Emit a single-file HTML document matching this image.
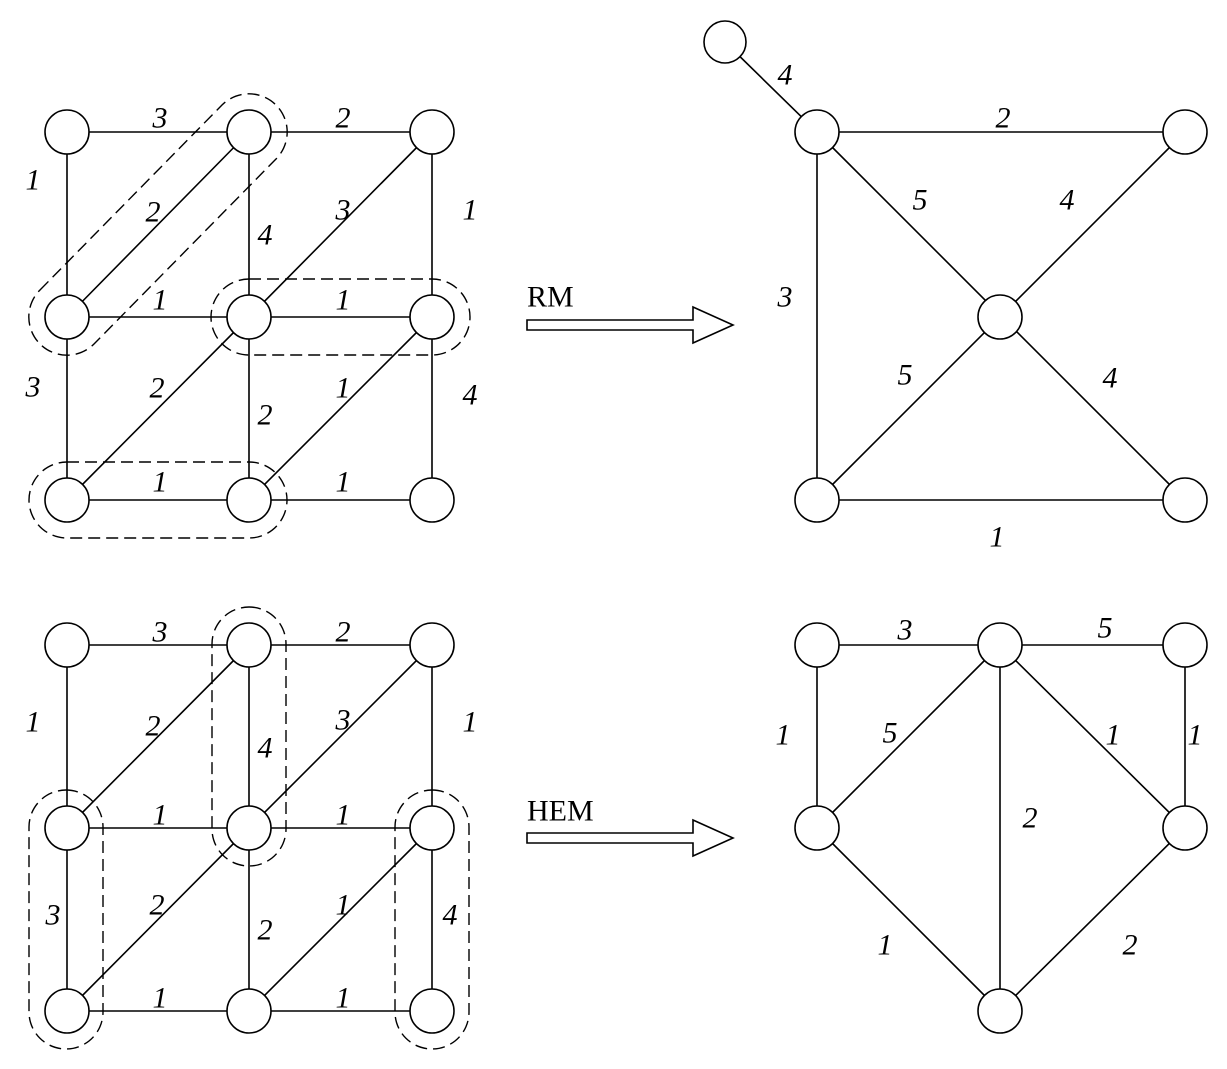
<!DOCTYPE html>
<html><head><style>html,body{margin:0;padding:0;background:#fff}svg{display:block}
text{font-family:"Liberation Serif",serif;font-size:30px;font-style:italic;fill:#000;text-anchor:middle;dominant-baseline:central}
.r{font-style:normal;text-anchor:start;font-size:30px}</style></head><body>
<svg width="1227" height="1069" viewBox="0 0 1227 1069" xmlns="http://www.w3.org/2000/svg">
<g stroke="#000" stroke-width="1.6" fill="none">
<!-- top-left grid -->
<path d="M67 132H432M67 317H432M67 500H432M67 132V500M249 132V500M432 132V500M67 317L249 132M249 317L432 132M67 500L249 317M249 500L432 317"/>
<!-- bottom-left grid -->
<path d="M67 645H432M67 828H432M67 1011H432M67 645V1011M249 645V1011M432 645V1011M67 828L249 645M249 828L432 645M67 1011L249 828M249 1011L432 828"/>
<!-- top-right -->
<path d="M725 42L817 132M817 132H1185M817 132V500M817 132L1185 500M1185 132L817 500M817 500H1185"/>
<!-- bottom-right -->
<path d="M817 645H1185M817 645V828M1185 645V828M1000 645L817 828M1000 645V1011M1000 645L1185 828M817 828L1000 1011M1185 828L1000 1011"/>
<!-- dashed -->
<g stroke-dasharray="12,6" stroke-width="1.4">
<path d="M40 290L222 105A38 38 0 0 1 276 159L94 344A38 38 0 0 1 40 290Z"/>
<rect x="211" y="279" width="259" height="76" rx="38"/>
<rect x="29" y="462" width="258" height="76" rx="38"/>
<rect x="29" y="790" width="74" height="259" rx="37"/>
<rect x="212" y="607" width="74" height="259" rx="37"/>
<rect x="395" y="790" width="74" height="259" rx="37"/>
</g>
<!-- arrows -->
<path d="M527 320H693V307L733 325L693 343V330H527Z"/>
<path d="M527 833H693V820L733 838L693 856V843H527Z"/>
</g>
<g stroke="#000" stroke-width="1.6" fill="#fff">
<circle cx="67" cy="132" r="22"/><circle cx="249" cy="132" r="22"/><circle cx="432" cy="132" r="22"/>
<circle cx="67" cy="317" r="22"/><circle cx="249" cy="317" r="22"/><circle cx="432" cy="317" r="22"/>
<circle cx="67" cy="500" r="22"/><circle cx="249" cy="500" r="22"/><circle cx="432" cy="500" r="22"/>
<circle cx="67" cy="645" r="22"/><circle cx="249" cy="645" r="22"/><circle cx="432" cy="645" r="22"/>
<circle cx="67" cy="828" r="22"/><circle cx="249" cy="828" r="22"/><circle cx="432" cy="828" r="22"/>
<circle cx="67" cy="1011" r="22"/><circle cx="249" cy="1011" r="22"/><circle cx="432" cy="1011" r="22"/>
<circle cx="725" cy="42" r="21"/><circle cx="817" cy="132" r="22"/><circle cx="1185" cy="132" r="22"/>
<circle cx="1000" cy="317" r="22"/><circle cx="817" cy="500" r="22"/><circle cx="1185" cy="500" r="22"/>
<circle cx="817" cy="645" r="22"/><circle cx="1000" cy="645" r="22"/><circle cx="1185" cy="645" r="22"/>
<circle cx="817" cy="828" r="22"/><circle cx="1185" cy="828" r="22"/><circle cx="1000" cy="1011" r="22"/>
</g>
<text x="160" y="118">3</text><text x="343" y="118">2</text><text x="33" y="180">1</text>
<text x="153" y="212">2</text><text x="265" y="235">4</text><text x="343" y="210">3</text>
<text x="470" y="210">1</text><text x="160" y="300">1</text><text x="343" y="300">1</text>
<text x="33" y="387">3</text><text x="157" y="388">2</text><text x="265" y="415">2</text>
<text x="343" y="388">1</text><text x="470" y="395">4</text><text x="160" y="482">1</text><text x="343" y="482">1</text>

<text x="160" y="632">3</text><text x="343" y="632">2</text><text x="33" y="722">1</text>
<text x="153" y="726">2</text><text x="265" y="748">4</text><text x="343" y="720">3</text>
<text x="470" y="722">1</text><text x="160" y="815">1</text><text x="343" y="815">1</text>
<text x="53" y="915">3</text><text x="157" y="905">2</text><text x="265" y="930">2</text>
<text x="343" y="905">1</text><text x="450" y="915">4</text><text x="160" y="998">1</text><text x="343" y="998">1</text>

<text x="785" y="75">4</text><text x="1003" y="118">2</text><text x="920" y="200">5</text>
<text x="1067" y="200">4</text><text x="785" y="297">3</text><text x="905" y="375">5</text>
<text x="1110" y="378">4</text><text x="997" y="537">1</text>

<text x="905" y="630">3</text><text x="1105" y="628">5</text><text x="783" y="735">1</text>
<text x="890" y="733">5</text><text x="1113" y="735">1</text><text x="1195" y="735">1</text>
<text x="1030" y="818">2</text><text x="885" y="945">1</text><text x="1130" y="945">2</text>

<text class="r" x="527" y="297">RM</text>
<text class="r" x="527" y="811">HEM</text>
</svg>
</body></html>
